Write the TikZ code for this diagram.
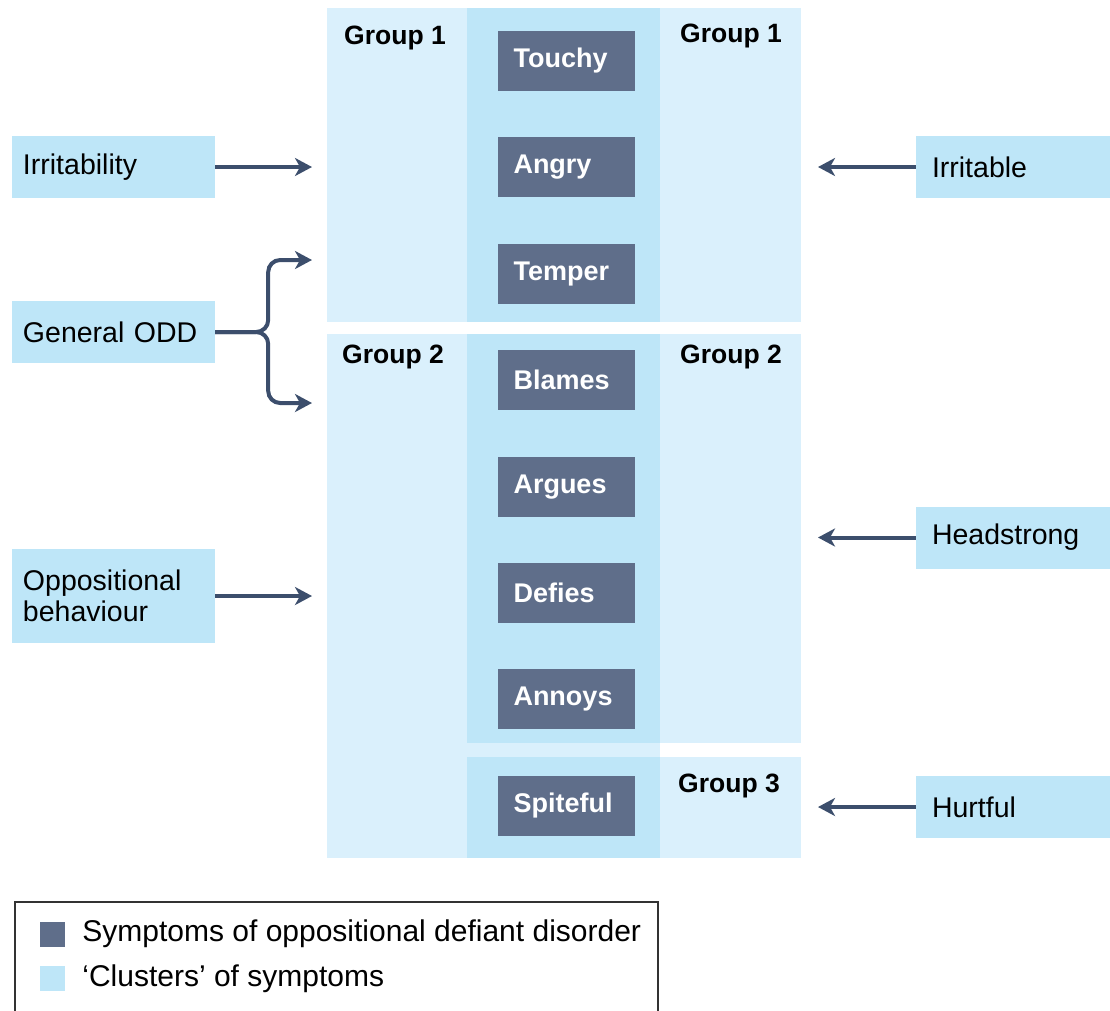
\documentclass[tikz,border=0pt]{standalone}
\usepackage{fontspec}
\setmainfont{Liberation Sans}
\usepackage{xcolor}
\usepackage{tikz}
\usetikzlibrary{arrows.meta,positioning}

\definecolor{panel}{HTML}{DAF0FC}
\definecolor{core}{HTML}{BEE6F8}
\definecolor{symp}{HTML}{5F6E8A}
\definecolor{navy}{HTML}{3C4E6C}
\definecolor{frame}{HTML}{333333}

\begin{document}
\begin{tikzpicture}[x=1pt, y=-1pt, node distance=46pt,
    symptom/.style={fill=symp, text=white, font=\fontsize{27}{31}\selectfont\bfseries,
      text width=105pt, align=left, minimum height=60pt, inner xsep=16pt, inner ysep=0pt},
    factor/.style={fill=core, font=\fontsize{28.5}{31}\selectfont, text width=181pt,
      minimum height=62pt, inner xsep=11pt, inner ysep=0pt, align=left},
    rfactor/.style={factor, text width=162pt, inner xsep=16pt},
    group/.style={font=\fontsize{26.5}{30}\selectfont\bfseries},
    key/.style={minimum size=25pt, inner sep=0pt},
    keytext/.style={font=\fontsize{30}{34}\selectfont, inner sep=0pt, anchor=west},
    arr/.style={draw=navy, line width=4pt, -{Stealth[length=17pt,width=18pt,inset=5pt]}}]
        \useasboundingbox (0,0) rectangle (1110,1010);

        % clusters
        \fill[panel] (327,8) rectangle (801,322);
        \fill[core] (467,8) rectangle (660,322);
        \fill[panel] (327,334) rectangle (660,858);
        \fill[panel] (660,334) rectangle (801,743);
        \fill[core] (467,334) rectangle (660,743);
        \fill[panel] (660,757) rectangle (801,858);
        \fill[core] (467,757) rectangle (660,858);

        \node[group] (g1l) at (395,38) {Group 1};
        \node[group] (g1r) at (731,36) {Group 1};
        \node[group] (g2l) at (393,357) {Group 2};
        \node[group] (g2r) at (731,357) {Group 2};
        \node[group] (g3r) at (729,786) {Group 3};

        % symptoms
        \node[symptom] (touchy) at (566,61) {Touchy};
        \node[symptom, below=of touchy] (angry) {Angry};
        \node[symptom, below=of angry] (temper) {Temper};
        \node[symptom, below=of temper] (blames) {Blames};
        \node[symptom, below=of blames] (argues) {Argues};
        \node[symptom, below=of argues] (defies) {Defies};
        \node[symptom, below=of defies] (annoys) {Annoys};
        \node[symptom, below=of annoys] (spiteful) {Spiteful};

        % models
        \node[factor] (irrit) at (113.5,167) {Irritability};
        \node[factor] (odd) at (113.5,332) {General ODD};
        \node[factor, minimum height=94pt] (opp) at (113.5,596) {Oppositional\\behaviour};
        \node[rfactor] (irritable) at (1013,167) {Irritable};
        \node[rfactor] (headstrong) at (1013,537.5) {Headstrong};
        \node[rfactor] (hurtful) at (1013,807) {Hurtful};

        \coordinate (inL) at (312,0);
        \coordinate (inR) at (818,0);
        \coordinate (oddUp) at (312,260);
        \coordinate (oddDown) at (312,403);

        \draw[arr] (irrit.east) -- (irrit.east -| inL);
        \draw[arr] (opp.east) -- (opp.east -| inL);
        \draw[arr, rounded corners=12pt] (odd.east) -- ++(53,0) |- (oddUp);
        \draw[arr, rounded corners=12pt] (odd.east) -- ++(53,0) |- (oddDown);
        \draw[arr] (irritable.west) -- (irritable.west -| inR);
        \draw[arr] (headstrong.west) -- (headstrong.west -| inR);
        \draw[arr] (hurtful.west) -- (hurtful.west -| inR);

        % key
        \draw[frame, line width=1.2pt] (15,902) rectangle (658,1030);
        \node[key, fill=symp] (keySym) at (52.5,934) {};
        \node[key, fill=core, below=19pt of keySym] (keyClu) {};
        \node[keytext, right=17pt of keySym] (keySymText) {Symptoms of oppositional defiant disorder};
        \node[keytext, right=17pt of keyClu] (keyCluText) {‘Clusters’ of symptoms};
    \end{tikzpicture}
\end{document}
